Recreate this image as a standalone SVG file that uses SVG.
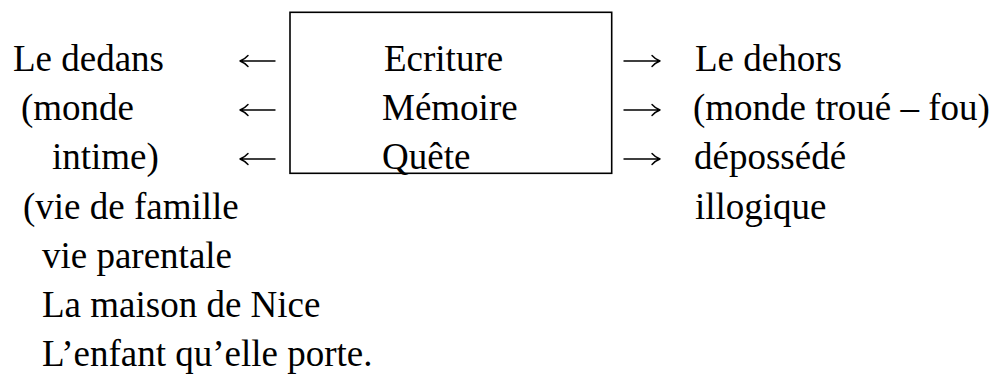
<svg xmlns="http://www.w3.org/2000/svg" width="999" height="374" viewBox="0 0 999 374">
<style>
text{font-family:"Liberation Serif","Times New Roman",serif;font-size:37px;fill:#000}
.box{fill:#fff;stroke:#000;stroke-width:1.6}
.arr{fill:none;stroke:#000;stroke-width:1.4;stroke-linecap:round;stroke-linejoin:round}
</style>
<defs>
<path id="la" class="arr" d="M0,0 H35 M0,0 Q5,-2 8,-5.5 M0,0 Q5,2 8,5.5"/>
<path id="ra" class="arr" d="M36,0 H0 M36,0 Q31,-2 28,-5.5 M36,0 Q31,2 28,5.5"/>
</defs>
<rect width="999" height="374" fill="#fff"/>
<g id="left">
<text x="13" y="71">Le dedans</text>
<text x="21" y="120">(monde</text>
<text x="52" y="169">intime)</text>
<text x="23" y="219">(vie de famille</text>
<text x="42" y="268">vie parentale</text>
<text x="42" y="317">La maison de Nice</text>
<text x="42" y="366">L’enfant qu’elle porte.</text>
</g>
<g id="center">
<rect class="box" x="290" y="12.3" width="321.7" height="161"/>
<text x="384" y="71">Ecriture</text>
<text x="382" y="120">Mémoire</text>
<text x="382" y="169">Quête</text>
</g>
<g id="right">
<text x="695" y="71">Le dehors</text>
<text x="693" y="120">(monde troué – fou)</text>
<text x="694" y="169">dépossédé</text>
<text x="695" y="219">illogique</text>
</g>
<g id="connectors">
<use href="#la" x="240" y="61"/>
<use href="#la" x="240" y="110"/>
<use href="#la" x="240" y="159"/>
<use href="#ra" x="624" y="61"/>
<use href="#ra" x="624" y="110"/>
<use href="#ra" x="624" y="159"/>
</g>
</svg>
